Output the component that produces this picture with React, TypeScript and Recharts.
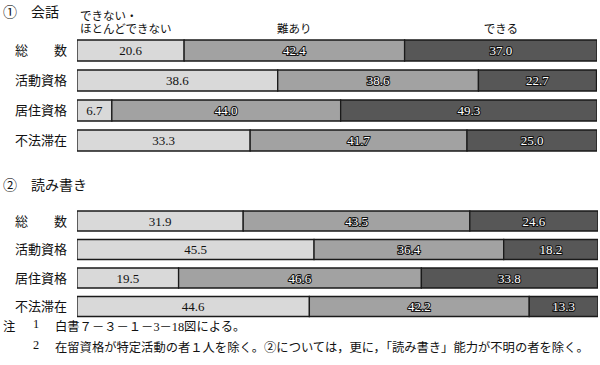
import React from 'react';
import { BarChart, Bar, XAxis, YAxis, LabelList } from 'recharts';

const categories = ['総　　数', '活動資格', '居住資格', '不法滞在'];
const seriesNames = ['できない・ほとんどできない', '難あり', 'できる'];

// ① 会話
const kaiwaUnable = [20.6, 38.6, 6.7, 33.3];
const kaiwaDifficult = [42.4, 38.6, 44.0, 41.7];
const kaiwaAble = [37.0, 22.7, 49.3, 25.0];

// ② 読み書き
const yomiUnable = [31.9, 45.5, 19.5, 44.6];
const yomiDifficult = [43.5, 36.4, 46.6, 42.2];
const yomiAble = [24.6, 18.2, 33.8, 13.3];

const FONT = "'Liberation Serif', 'DejaVu Serif', 'Noto Sans CJK JP', serif";
const COLORS = ['#d9d9d9', '#a2a2a2', '#575757'];

const buildRows = (a: number[], b: number[], c: number[]) =>
  categories.map((name, i) => ({ name, unable: a[i], difficult: b[i], able: c[i] }));

const darkLabel = (props: any) => {
  const { x, y, width, height, value } = props;
  return (
    <text
      x={x + width / 2}
      y={y + height / 2 + 4.5}
      textAnchor="middle"
      fontSize={13}
      fontFamily={FONT}
      fill="#fff"
      stroke="#111"
      strokeWidth={2}
      paintOrder="stroke"
    >
      {Number(value).toFixed(1)}
    </text>
  );
};

const lightLabel = (props: any) => {
  const { x, y, width, height, value } = props;
  return (
    <text x={x + width / 2} y={y + height / 2 + 4.5} textAnchor="middle" fontSize={13} fontFamily={FONT} fill="#111">
      {Number(value).toFixed(1)}
    </text>
  );
};

// legend names drawn over the first row's segments
const legendLabel = (series: number) => (props: any) => {
  const { x, y, width, index } = props;
  if (index !== 0) return null;
  if (series === 0) {
    return (
      <g fontSize={11.5} fontFamily={FONT} fill="#111">
        <text x={x + 3} y={y - 20}>できない・</text>
        <text x={x + 3} y={y - 7}>ほとんどできない</text>
      </g>
    );
  }
  return (
    <text x={x + width / 2} y={y - 7} textAnchor="middle" fontSize={11.5} fontFamily={FONT} fill="#111">
      {seriesNames[series]}
    </text>
  );
};

function StackChart({ rows, height, margin, barSize, legend }: any) {
  return (
    <BarChart width={600} height={height} data={rows} layout="vertical" margin={margin} barSize={barSize}>
      <XAxis type="number" domain={[0, 100]} hide allowDataOverflow />
      <YAxis
        type="category"
        dataKey="name"
        width={77}
        axisLine={false}
        tickLine={false}
        tickSize={0}
        tickMargin={10}
        tick={{ fill: '#111', fontSize: 13, fontFamily: FONT }}
      />
      <Bar dataKey="unable" stackId="s" fill={COLORS[0]} stroke="#1a1a1a" strokeWidth={1.3} isAnimationActive={false}>
        <LabelList dataKey="unable" content={lightLabel} />
        {legend && <LabelList dataKey="unable" content={legendLabel(0)} />}
      </Bar>
      <Bar dataKey="difficult" stackId="s" fill={COLORS[1]} stroke="#1a1a1a" strokeWidth={1.3} isAnimationActive={false}>
        <LabelList dataKey="difficult" content={darkLabel} />
        {legend && <LabelList dataKey="difficult" content={legendLabel(1)} />}
      </Bar>
      <Bar dataKey="able" stackId="s" fill={COLORS[2]} stroke="#1a1a1a" strokeWidth={1.3} isAnimationActive={false}>
        <LabelList dataKey="able" content={darkLabel} />
        {legend && <LabelList dataKey="able" content={legendLabel(2)} />}
      </Bar>
    </BarChart>
  );
}

export default function App() {
  const titleStyle: React.CSSProperties = { position: 'absolute', fontFamily: FONT, fontSize: 14, color: '#111', whiteSpace: 'pre' };
  const noteStyle: React.CSSProperties = { position: 'absolute', fontFamily: FONT, fontSize: 12.3, color: '#111', whiteSpace: 'pre' };
  return (
    <div style={{ position: 'absolute', left: 0, top: 0, width: 600, height: 365, background: '#fff', overflow: 'hidden' }}>
      <div style={{ ...titleStyle, left: 3, top: 1 }}>①　会話</div>
      <div style={{ position: 'absolute', left: 0, top: 0 }}>
        <StackChart
          rows={buildRows(kaiwaUnable, kaiwaDifficult, kaiwaAble)}
          height={160}
          margin={{ top: 35, right: 3, bottom: 5, left: 0 }}
          barSize={21}
          legend
        />
      </div>
      <div style={{ ...titleStyle, left: 3, top: 174 }}>②　読み書き</div>
      <div style={{ position: 'absolute', left: 0, top: 190 }}>
        <StackChart
          rows={buildRows(yomiUnable, yomiDifficult, yomiAble)}
          height={140}
          margin={{ top: 17, right: 2, bottom: 9, left: 0 }}
          barSize={20}
        />
      </div>
      <div style={{ ...noteStyle, left: 3, top: 317 }}>注</div>
      <div style={{ ...noteStyle, left: 33, top: 317 }}>1</div>
      <div style={{ ...noteStyle, left: 55, top: 317 }}>白書７－３－１－3－18図による。</div>
      <div style={{ ...noteStyle, left: 33, top: 338 }}>2</div>
      <div style={{ ...noteStyle, left: 55, top: 338 }}>在留資格が特定活動の者１人を除く。②については，更に，「読み書き」能力が不明の者を除く。</div>
    </div>
  );
}
